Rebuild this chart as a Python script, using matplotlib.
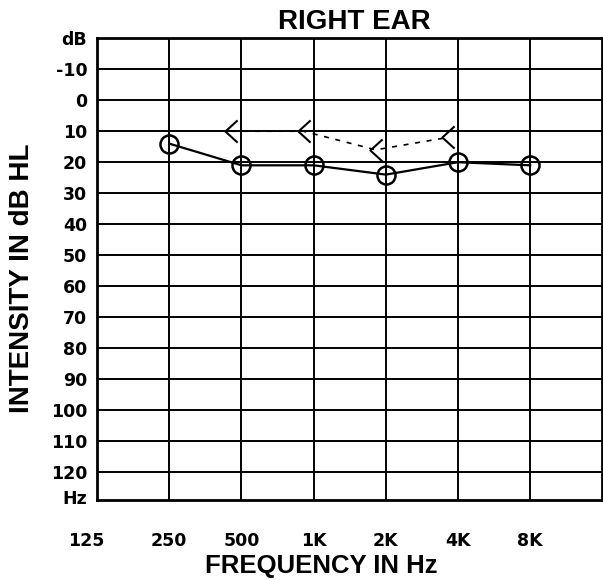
import numpy as np
import matplotlib.pyplot as plt
import matplotlib.transforms as mtransforms
from matplotlib.path import Path

# audiogram values, right ear
freqs = [250, 500, 1000, 2000, 4000, 8000]
air_db = [14, 21, 21, 24, 20, 21]

bone_freqs = [500, 1000, 2000, 4000]
bone_db = [10, 10, 16, 12]

xtick_freqs = [125, 250, 500, 1000, 2000, 4000, 8000]
xtick_labels = ["125", "250", "500", "1K", "2K", "4K", "8K"]
db_levels = list(range(-10, 121, 10))

plt.rcParams['font.family'] = ['DejaVu Sans']
plt.rcParams['font.weight'] = 'bold'

fig = plt.figure(figsize=(6.03, 5.80), dpi=100)
ax = fig.add_axes([0.161, 0.138, 0.838, 0.796])

ax.set_xscale('log', base=2)
ax.set_xlim(125, 16000)
ax.set_ylim(129, -20)

# grid
for f in xtick_freqs[1:]:
    ax.axvline(f, color='black', lw=1.4, zorder=1)
for d in db_levels:
    ax.axhline(d, color='black', lw=1.4, zorder=1)
for s in ax.spines.values():
    s.set_linewidth(2)

# air conduction: open circles
ax.plot(freqs, air_db, color='black', lw=1.6, marker='o', ms=13,
        mfc='none', mec='black', mew=1.8, zorder=3)

# bone conduction: '<' drawn just left of each frequency
chevron = Path([(0.55, 1.0), (-0.55, 0.0), (0.55, -1.0)],
               [Path.MOVETO, Path.LINETO, Path.LINETO])
bx = [f * 2 ** -0.14 for f in bone_freqs]
ax.plot(bx, bone_db, color='black', lw=1.2, ls=(0, (3, 4)), zorder=3)
ax.plot(bx, bone_db, ls='none', marker=chevron, ms=16, mfc='none',
        mec='black', mew=1.5, zorder=3)

ax.set_xticks(xtick_freqs)
ax.set_xticklabels(xtick_labels)
ax.xaxis.set_minor_locator(plt.NullLocator())
ax.set_yticks([-20] + db_levels + [128])
ax.set_yticklabels(["dB"] + [str(d) for d in db_levels] + ["Hz"])
ax.tick_params(axis='both', length=0, labelsize=12.5)
ax.tick_params(axis='y', pad=7)
ax.tick_params(axis='x', pad=23)

# the 125 label sits a little left of the frame edge
lab0 = ax.get_xticklabels()[0]
lab0.set_transform(lab0.get_transform() +
                   mtransforms.ScaledTranslation(-0.11, 0, fig.dpi_scale_trans))

fig.text(0.588, 0.962, "RIGHT EAR", ha='center', va='center',
         fontsize=20, fontweight='bold', family='Liberation Sans')
fig.text(0.532, 0.025, "FREQUENCY IN Hz", ha='center', va='center',
         fontsize=18.5, fontweight='bold', family='Liberation Sans')
fig.text(0.037, 0.52, "INTENSITY IN dB HL", ha='center', va='center',
         rotation=90, fontsize=20, fontweight='bold', family='Liberation Sans')

fig.savefig("out.png", dpi=100)
